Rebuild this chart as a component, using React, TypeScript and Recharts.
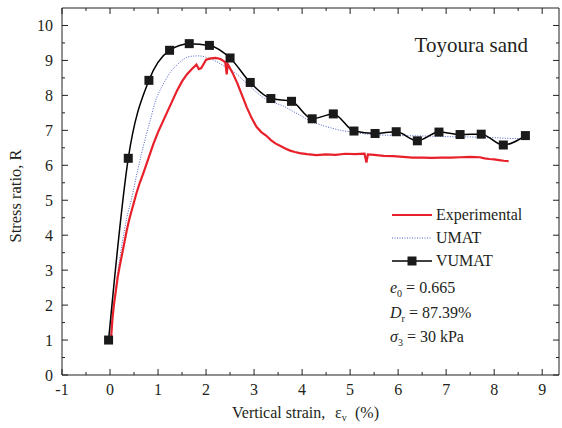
import { LineChart, Line, XAxis, YAxis, Legend, Label } from 'recharts';

const expStrain = [0.02, 0.05, 0.08, 0.12, 0.16, 0.2, 0.25, 0.3, 0.35, 0.4, 0.45, 0.5, 0.55, 0.62, 0.7, 0.8, 0.9, 1.0, 1.1, 1.2, 1.3, 1.4, 1.5, 1.6, 1.7, 1.8, 1.85, 1.9, 1.95, 2.0, 2.1, 2.2, 2.3, 2.4, 2.43, 2.45, 2.55, 2.65, 2.75, 2.85, 2.95, 3.05, 3.15, 3.25, 3.35, 3.45, 3.55, 3.65, 3.75, 3.85, 3.95, 4.1, 4.3, 4.5, 4.7, 4.9, 5.1, 5.3, 5.34, 5.37, 5.5, 5.7, 5.9, 6.1, 6.3, 6.5, 6.7, 6.9, 7.1, 7.3, 7.5, 7.7, 7.8, 7.9, 8.0, 8.1, 8.2, 8.3];
const expRatio = [1.0, 1.6, 2.0, 2.4, 2.8, 3.1, 3.45, 3.8, 4.15, 4.45, 4.7, 4.95, 5.2, 5.5, 5.8, 6.2, 6.6, 6.95, 7.25, 7.55, 7.85, 8.15, 8.4, 8.6, 8.75, 8.88, 8.75, 8.78, 8.9, 9.02, 9.06, 9.07, 9.04, 8.95, 8.6, 8.9, 8.65, 8.35, 8.0, 7.65, 7.35, 7.1, 6.95, 6.85, 6.72, 6.62, 6.55, 6.48, 6.42, 6.38, 6.35, 6.32, 6.29, 6.31, 6.3, 6.33, 6.32, 6.33, 6.08, 6.31, 6.3, 6.27, 6.26, 6.24, 6.22, 6.22, 6.21, 6.22, 6.22, 6.23, 6.24, 6.23, 6.2, 6.18, 6.17, 6.15, 6.13, 6.12];

// UMAT simulation
const umatStrain = [0, 0.08, 0.15, 0.25, 0.35, 0.45, 0.55, 0.65, 0.75, 0.85, 0.95, 1.1, 1.25, 1.4, 1.55, 1.7, 1.85, 2.0, 2.2, 2.4, 2.6, 2.8, 3.0, 3.2, 3.4, 3.6, 3.8, 4.0, 4.2, 4.4, 4.6, 4.8, 5.0, 5.3, 5.6, 6.0, 6.5, 7.0, 7.5, 8.0, 8.3, 8.65];
const umatRatio = [1, 2.0, 2.8, 3.75, 4.5, 5.05, 5.7, 6.3, 6.85, 7.35, 7.85, 8.3, 8.65, 8.88, 9.05, 9.12, 9.13, 9.09, 8.98, 8.82, 8.65, 8.4, 8.15, 7.93, 7.8, 7.7, 7.55, 7.4, 7.25, 7.15, 7.07, 7.0, 6.96, 6.9, 6.87, 6.85, 6.84, 6.82, 6.81, 6.79, 6.77, 6.76];

// VUMAT simulation
const vumatStrain = [-0.03, 0.38, 0.81, 1.24, 1.65, 2.07, 2.5, 2.92, 3.35, 3.78, 4.21, 4.65, 5.08, 5.52, 5.96, 6.4, 6.85, 7.29, 7.73, 8.19, 8.65];
const vumatRatio = [1, 6.2, 8.43, 9.29, 9.48, 9.43, 9.07, 8.37, 7.91, 7.83, 7.33, 7.47, 6.98, 6.91, 6.96, 6.7, 6.95, 6.88, 6.89, 6.58, 6.85];

const xTicks = [-1, -0.5, 0, 0.5, 1, 1.5, 2, 2.5, 3, 3.5, 4, 4.5, 5, 5.5, 6, 6.5, 7, 7.5, 8, 8.5, 9];
const yTicks = [0, 0.5, 1, 1.5, 2, 2.5, 3, 3.5, 4, 4.5, 5, 5.5, 6, 6.5, 7, 7.5, 8, 8.5, 9, 9.5, 10];

const toRows = (xs: number[], ys: number[]) => xs.map((x, i) => ({ x, y: ys[i] }));

const ink = '#231f20';
const font = "'Liberation Serif', Tinos, 'Times New Roman', Times, serif";

const BottomTick = ({ x, y, payload }: any) => {
  const major = Number.isInteger(payload.value);
  return (
    <g>
      <line x1={x} x2={x} y1={y} y2={y - (major ? 6 : 3)} stroke={ink} />
      {major && (
        <text x={x} y={y + 20} textAnchor="middle" fontSize={16} fill={ink} style={{ fontFamily: font }}>
          {payload.value}
        </text>
      )}
    </g>
  );
};

const TopTick = ({ x, y, payload }: any) => {
  const major = Number.isInteger(payload.value);
  return <line x1={x} x2={x} y1={y} y2={y + (major ? 6 : 3)} stroke={ink} />;
};

const LeftTick = ({ x, y, payload }: any) => {
  const major = Number.isInteger(payload.value);
  return (
    <g>
      <line x1={x} x2={x + (major ? 6 : 3)} y1={y} y2={y} stroke={ink} />
      {major && (
        <text x={x - 9} y={y + 5.5} textAnchor="end" fontSize={16} fill={ink} style={{ fontFamily: font }}>
          {payload.value}
        </text>
      )}
    </g>
  );
};

const RightTick = ({ x, y, payload }: any) => {
  const major = Number.isInteger(payload.value);
  return <line x1={x} x2={x - (major ? 6 : 3)} y1={y} y2={y} stroke={ink} />;
};

const SquareDot = ({ cx, cy, index }: any) => (
  <rect key={index} x={cx - 4.5} y={cy - 4.5} width={9} height={9} fill="#1a1a1a" />
);

const subStyle = { fontSize: 10, verticalAlign: 'baseline', position: 'relative', top: 4 } as const;

const LegendBox = () => {
  const row = { height: 23, display: 'flex', alignItems: 'center' } as const;
  const note = { height: 24.5, lineHeight: '24.5px', whiteSpace: 'nowrap' } as const;
  return (
    <div style={{ fontFamily: font, fontSize: 16, color: ink, lineHeight: '23px' }}>
      <div style={row}>
        <svg width={46} height={10}>
          <line x1={2} x2={42} y1={5} y2={5} stroke="#e8202a" strokeWidth={2} />
        </svg>
        Experimental
      </div>
      <div style={row}>
        <svg width={46} height={10}>
          <line x1={2} x2={42} y1={5} y2={5} stroke="#4a5fc8" strokeDasharray="1 1.5" />
        </svg>
        UMAT
      </div>
      <div style={row}>
        <svg width={46} height={10}>
          <line x1={2} x2={42} y1={5} y2={5} stroke="#000" strokeWidth={1.5} />
          <rect x={17.5} y={0.5} width={9} height={9} fill="#1a1a1a" />
        </svg>
        VUMAT
      </div>
      <div style={{ marginTop: 4 }}>
        <div style={note}>
          <i>e</i>
          <span style={subStyle}>0</span> = 0.665
        </div>
        <div style={note}>
          <i>D</i>
          <span style={subStyle}>r</span> = 87.39%
        </div>
        <div style={note}>
          <i>σ</i>
          <span style={subStyle}>3</span> = 30 kPa
        </div>
      </div>
    </div>
  );
};

export default function App() {
  return (
    <div style={{ position: 'absolute', left: 0, top: 0 }}>
      <LineChart width={562} height={428} margin={{ top: 0, right: 0, left: 0, bottom: 0 }}>
        <XAxis
          dataKey="x"
          type="number"
          domain={[-1, 9.35]}
          ticks={xTicks}
          interval={0}
          allowDataOverflow
          height={53}
          tickSize={0}
          tickMargin={0}
          tickLine={false}
          tick={<BottomTick />}
          axisLine={{ stroke: ink }}
        >
          <Label
            content={() => (
              <text y={418} fontSize={16} fill={ink} style={{ fontFamily: font }}>
                <tspan x={232}>Vertical strain,</tspan>
                <tspan x={335}>ε</tspan>
                <tspan fontSize={10} dy={3}>v</tspan>
                <tspan x={355} dy={-3}>(%)</tspan>
              </text>
            )}
          />
        </XAxis>
        <XAxis
          xAxisId="top"
          orientation="top"
          dataKey="x"
          type="number"
          domain={[-1, 9.35]}
          ticks={xTicks}
          interval={0}
          allowDataOverflow
          height={8}
          tickSize={0}
          tickMargin={0}
          tickLine={false}
          tick={<TopTick />}
          axisLine={{ stroke: ink }}
        />
        <YAxis
          type="number"
          domain={[0, 10.5]}
          ticks={yTicks}
          interval={0}
          allowDataOverflow
          width={62}
          tickSize={0}
          tickMargin={0}
          tickLine={false}
          tick={<LeftTick />}
          axisLine={{ stroke: ink }}
        >
          <Label
            content={() => (
              <text
                x={21}
                y={196}
                transform="rotate(-90 21 196)"
                textAnchor="middle"
                fontSize={16.5}
                fill={ink}
                style={{ fontFamily: font }}
              >
                Stress ratio, R
              </text>
            )}
          />
        </YAxis>
        <YAxis
          yAxisId="r"
          orientation="right"
          type="number"
          domain={[0, 10.5]}
          ticks={yTicks}
          interval={0}
          allowDataOverflow
          width={3}
          tickSize={0}
          tickMargin={0}
          tickLine={false}
          tick={<RightTick />}
          axisLine={{ stroke: ink }}
        />
        <Legend
          layout="vertical"
          align="center"
          verticalAlign="middle"
          content={<LegendBox />}
          wrapperStyle={{ position: 'absolute', left: 390, top: 203, width: 170 }}
        />
        <Line
          data={toRows(umatStrain, umatRatio)}
          dataKey="y"
          type="monotone"
          stroke="#4a5fc8"
          strokeWidth={1}
          strokeDasharray="1 1.5"
          dot={false}
          isAnimationActive={false}
        />
        <Line
          data={toRows(expStrain, expRatio)}
          dataKey="y"
          type="linear"
          stroke="#e8202a"
          strokeWidth={2.2}
          dot={false}
          isAnimationActive={false}
        />
        <Line
          data={toRows(vumatStrain, vumatRatio)}
          dataKey="y"
          type="monotone"
          stroke="#000"
          strokeWidth={1.5}
          dot={<SquareDot />}
          isAnimationActive={false}
        />
        <text x={528} y={52} textAnchor="end" fontSize={21} fill={ink} style={{ fontFamily: font }}>
          Toyoura sand
        </text>
      </LineChart>
    </div>
  );
}
